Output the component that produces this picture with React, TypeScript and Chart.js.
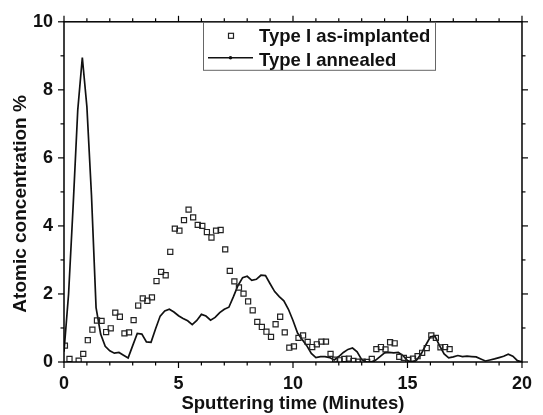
import { useEffect, useRef } from "react";
import { Chart, registerables } from "chart.js";

Chart.register(...registerables);

const FONT = '"Liberation Sans", Arial, Helvetica, sans-serif';

const seriesLabels = ["Type I as-implanted", "Type I annealed"];
const xTitle = "Sputtering time (Minutes)";
const yTitle = "Atomic concentration %";

const implantedTime = [
  0.04, 0.24, 0.64, 0.84, 1.04, 1.24, 1.44, 1.64, 1.84, 2.04, 2.24, 2.44, 2.64, 2.84,
  3.04, 3.24, 3.44, 3.64, 3.84, 4.04, 4.24, 4.44, 4.64, 4.84, 5.04, 5.24, 5.44, 5.64,
  5.84, 6.04, 6.24, 6.44, 6.64, 6.84, 7.04, 7.24, 7.44, 7.64, 7.84, 8.04, 8.24, 8.44,
  8.64, 8.84, 9.04, 9.24, 9.44, 9.64, 9.84, 10.04, 10.24, 10.44, 10.64, 10.84, 11.04,
  11.24, 11.44, 11.64, 11.84, 12.04, 12.24, 12.44, 12.64, 12.84, 13.04, 13.24, 13.44,
  13.64, 13.84, 14.04, 14.24, 14.44, 14.64, 14.84, 15.04, 15.24, 15.44, 15.64, 15.84,
  16.04, 16.24, 16.44, 16.64, 16.84,
];
const implantedValue = [
  0.48, 0.09, 0.04, 0.24, 0.64, 0.95, 1.22, 1.21, 0.88, 0.99, 1.45, 1.33, 0.84, 0.87,
  1.23, 1.66, 1.87, 1.8, 1.9, 2.38, 2.65, 2.55, 3.24, 3.92, 3.86, 4.17, 4.48, 4.25,
  4.03, 4.0, 3.82, 3.66, 3.86, 3.88, 3.31, 2.68, 2.37, 2.19, 2.01, 1.78, 1.52, 1.18,
  1.03, 0.89, 0.74, 1.11, 1.33, 0.87, 0.42, 0.46, 0.71, 0.78, 0.59, 0.44, 0.52,
  0.6, 0.6, 0.24, 0.07, 0.05, 0.09, 0.1, 0.03, 0.01, 0.01, 0.0, 0.09,
  0.38, 0.44, 0.37, 0.58, 0.55, 0.15, 0.12, 0.06, 0.1, 0.17, 0.27, 0.41,
  0.78, 0.71, 0.43, 0.44, 0.38,
];

const annealedTime = [
  0.0, 0.2, 0.4, 0.6, 0.8, 1.0, 1.2, 1.4, 1.6, 1.8, 2.0, 2.2, 2.4, 2.6, 2.8, 3.0, 3.2,
  3.4, 3.6, 3.8, 4.0, 4.2, 4.4, 4.6, 4.8, 5.0, 5.2, 5.4, 5.6, 5.8, 6.0, 6.2, 6.4, 6.6,
  6.8, 7.0, 7.2, 7.4, 7.6, 7.8, 8.0, 8.2, 8.4, 8.6, 8.8, 9.0, 9.2, 9.4, 9.6, 9.8, 10.0,
  10.2, 10.4, 10.6, 10.8, 11.0, 11.2, 11.4, 11.6, 11.8, 12.0, 12.2, 12.4, 12.6, 12.8,
  13.0, 13.2, 13.4, 13.6, 13.8, 14.0, 14.2, 14.4, 14.6, 14.8, 15.0, 15.2, 15.4, 15.6,
  15.8, 16.0, 16.2, 16.4, 16.6, 16.8, 17.0, 17.2, 17.4, 17.6, 17.8, 18.0, 18.2, 18.4,
  18.6, 18.8, 19.0, 19.2, 19.4, 19.6, 19.8, 20.0,
];
const annealedValue = [
  0.3, 2.0, 4.6, 7.4, 8.95, 7.5, 4.9, 1.6, 0.82, 0.46, 0.33, 0.26, 0.28, 0.2, 0.12, 0.48, 0.84,
  0.82, 0.59, 0.58, 0.98, 1.35, 1.5, 1.55, 1.47, 1.36, 1.28, 1.21, 1.1, 1.22, 1.4, 1.35, 1.23, 1.31,
  1.45, 1.55, 1.61, 1.92, 2.25, 2.48, 2.52, 2.4, 2.43, 2.55, 2.54, 2.3, 2.07, 1.92, 1.8, 1.55, 1.22,
  0.85, 0.66, 0.48, 0.25, 0.13, 0.16, 0.16, 0.13, 0.06, 0.16, 0.28, 0.37, 0.41, 0.3,
  0.07, 0.0, 0.0, 0.05, 0.16, 0.27, 0.28, 0.27, 0.28, 0.19, 0.04, 0.0, 0.06, 0.24,
  0.5, 0.74, 0.76, 0.48, 0.24, 0.12, 0.15, 0.19, 0.16, 0.17, 0.16, 0.15, 0.09, 0.03,
  0.06, 0.09, 0.13, 0.17, 0.23, 0.17, 0.04, 0.0,
];

const xRange = [0, 20];
const yRange = [0, 10];

export default function App() {
  const ref = useRef<HTMLCanvasElement>(null);

  useEffect(() => {
    if (!ref.current) return;

    const frame = {
      id: "frame",
      afterDraw(chart: any) {
        const { ctx, chartArea: a, scales } = chart;
        const sx = scales.x;
        const sy = scales.y;
        ctx.save();
        ctx.strokeStyle = "#000";
        ctx.lineWidth = 1.5;
        ctx.strokeRect(a.left, a.top, a.right - a.left, a.bottom - a.top);
        ctx.lineWidth = 1.2;
        const seg = (x1: number, y1: number, x2: number, y2: number) => {
          ctx.beginPath();
          ctx.moveTo(x1, y1);
          ctx.lineTo(x2, y2);
          ctx.stroke();
        };
        for (let v = xRange[0]; v <= xRange[1]; v++) {
          const px = sx.getPixelForValue(v);
          const len = v % 5 === 0 ? 6 : 3.5;
          seg(px, a.bottom, px, a.bottom + len);
          seg(px, a.top, px, a.top - len);
        }
        for (let v = yRange[0]; v <= yRange[1]; v++) {
          const py = sy.getPixelForValue(v);
          const len = v % 2 === 0 ? 6 : 3.5;
          seg(a.left, py, a.left - len, py);
          seg(a.right, py, a.right + len, py);
        }

        // legend box
        const lx = a.left + 139;
        const lw = 232;
        const ly = a.top;
        const lh = 48;
        ctx.fillStyle = "#fff";
        ctx.fillRect(lx, ly + 1, lw, lh - 1);
        ctx.strokeStyle = "#666";
        ctx.lineWidth = 1;
        ctx.strokeRect(lx + 0.5, ly + 0.5, lw, lh);
        ctx.strokeStyle = "#222";
        ctx.lineWidth = 1.2;
        ctx.strokeRect(lx + 25.5, ly + 11.5, 5, 5);
        ctx.strokeStyle = "#111";
        ctx.lineWidth = 1.6;
        seg(lx + 5, ly + 36, lx + 50, ly + 36);
        ctx.fillStyle = "#111";
        ctx.beginPath();
        ctx.arc(lx + 27.5, ly + 36, 1.8, 0, Math.PI * 2);
        ctx.fill();
        ctx.fillStyle = "#111";
        ctx.font = `bold 18.5px ${FONT}`;
        ctx.textAlign = "left";
        ctx.textBaseline = "alphabetic";
        ctx.fillText(seriesLabels[0], lx + 56, ly + 20.5);
        ctx.fillText(seriesLabels[1], lx + 56, ly + 44.5);

        // y-axis title
        ctx.save();
        ctx.translate(21, (a.top + a.bottom) / 2 + 12);
        ctx.rotate(-Math.PI / 2);
        ctx.textAlign = "center";
        ctx.textBaseline = "middle";
        ctx.font = `bold 19px ${FONT}`;
        ctx.fillText(yTitle, 0, 0);
        ctx.restore();

        ctx.restore();
      },
    };

    const chart = new Chart(ref.current, {
      type: "scatter",
      data: {
        datasets: [
          {
            label: seriesLabels[0],
            data: implantedTime.map((t, i) => ({ x: t, y: implantedValue[i] })),
            showLine: false,
            pointStyle: "rect",
            pointRadius: 3.6,
            pointBorderWidth: 1.2,
            borderColor: "#222",
            backgroundColor: "rgba(255,255,255,0)",
            pointBackgroundColor: "rgba(255,255,255,0)",
            pointBorderColor: "#222",
          },
          {
            label: seriesLabels[1],
            data: annealedTime.map((t, i) => ({ x: t, y: annealedValue[i] })),
            showLine: true,
            pointRadius: 0,
            borderColor: "#111",
            borderWidth: 1.7,
            tension: 0,
            backgroundColor: "#111",
          },
        ],
      },
      options: {
        responsive: false,
        devicePixelRatio: 1,
        animation: false,
        layout: { padding: { top: 17, right: 10, left: 0, bottom: 0 } },
        plugins: {
          legend: { display: false },
          tooltip: { enabled: false },
        },
        scales: {
          x: {
            type: "linear",
            min: xRange[0],
            max: xRange[1],
            grid: { display: false, drawTicks: false },
            border: { display: false },
            ticks: {
              stepSize: 5,
              color: "#111",
              padding: 11,
              font: { family: FONT, size: 18, weight: "bold" },
            },
            title: {
              display: true,
              text: xTitle,
              color: "#111",
              padding: { top: 0, bottom: 0 },
              font: { family: FONT, size: 18.5, weight: "bold" },
            },
            afterFit(scale: any) {
              scale.height = 53;
            },
          },
          y: {
            type: "linear",
            min: yRange[0],
            max: yRange[1],
            grid: { display: false, drawTicks: false },
            border: { display: false },
            ticks: {
              stepSize: 2,
              color: "#111",
              padding: 11,
              font: { family: FONT, size: 18, weight: "bold" },
            },
            afterFit(scale: any) {
              scale.width = 64;
            },
          },
        },
      },
      plugins: [frame],
    } as any);

    return () => chart.destroy();
  }, []);

  return (
    <div style={{ position: "absolute", left: 0, top: 0, width: 543, height: 415, background: "#fff" }}>
      <canvas ref={ref} width={543} height={415} style={{ display: "block", width: 543, height: 415 }} />
    </div>
  );
}
